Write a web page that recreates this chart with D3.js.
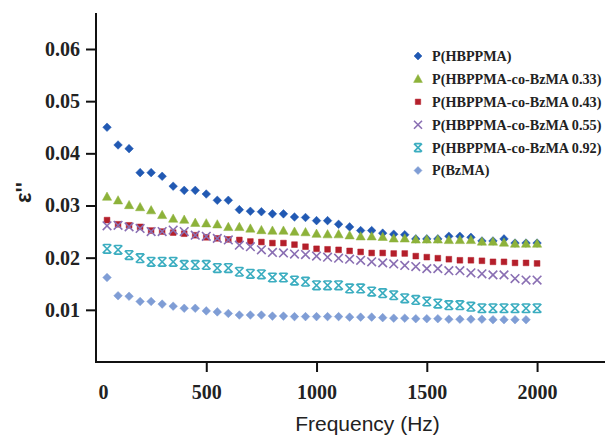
<!DOCTYPE html>
<html>
<head>
<meta charset="utf-8">
<script src="https://cdn.jsdelivr.net/npm/d3@7"></script>
<style>
  html, body { margin: 0; padding: 0; background: #fff; }
  svg { display: block; }
</style>
</head>
<body>
<svg id="chart" width="605" height="437"></svg>
<script>
// ---- data ----
const frequencies = [50,100,150,200,250,300,350,400,450,500,550,600,650,700,750,800,850,900,950,1000,
  1050,1100,1150,1200,1250,1300,1350,1400,1450,1500,1550,1600,1650,1700,1750,1800,1850,1900,1950,2000];

const seriesNames = ["P(HBPPMA)", "P(HBPPMA-co-BzMA 0.33)", "P(HBPPMA-co-BzMA 0.43)",
  "P(HBPPMA-co-BzMA 0.55)", "P(HBPPMA-co-BzMA 0.92)", "P(BzMA)"];

const hbppma = [0.0450,0.0416,0.0409,0.0363,0.0363,0.0356,0.0337,0.0329,0.0329,0.0322,0.0310,0.0310,0.0292,0.0289,0.0288,0.0284,0.0284,0.0278,0.0277,0.0271,
  0.0271,0.0264,0.0259,0.0252,0.0252,0.0247,0.0245,0.0244,0.0236,0.0236,0.0236,0.0241,0.0241,0.0239,0.0232,0.0232,0.0236,0.0228,0.0228,0.0228];
const co033 = [0.0317,0.0310,0.0301,0.0297,0.0291,0.0282,0.0275,0.0273,0.0267,0.0266,0.0264,0.0259,0.0259,0.0256,0.0253,0.0252,0.0252,0.0250,0.0249,0.0246,
  0.0245,0.0245,0.0243,0.0241,0.0241,0.0240,0.0237,0.0237,0.0235,0.0235,0.0235,0.0234,0.0234,0.0234,0.0231,0.0231,0.0229,0.0227,0.0227,0.0227];
const co043 = [0.0272,0.0264,0.0262,0.0259,0.0252,0.0250,0.0248,0.0246,0.0243,0.0239,0.0237,0.0235,0.0234,0.0231,0.0230,0.0228,0.0228,0.0225,0.0221,0.0217,
  0.0216,0.0215,0.0213,0.0211,0.0209,0.0209,0.0208,0.0208,0.0203,0.0201,0.0199,0.0197,0.0195,0.0195,0.0194,0.0192,0.0192,0.0190,0.0190,0.0189];
const co055 = [0.0261,0.0262,0.0259,0.0256,0.0250,0.0250,0.0253,0.0250,0.0243,0.0241,0.0237,0.0234,0.0224,0.0221,0.0215,0.0210,0.0209,0.0207,0.0206,0.0203,
  0.0201,0.0199,0.0197,0.0195,0.0192,0.0190,0.0188,0.0185,0.0183,0.0179,0.0179,0.0175,0.0175,0.0171,0.0169,0.0167,0.0167,0.0160,0.0157,0.0157];
const co092 = [0.0217,0.0215,0.0205,0.0199,0.0192,0.0192,0.0192,0.0186,0.0186,0.0186,0.0180,0.0180,0.0173,0.0169,0.0168,0.0162,0.0162,0.0156,0.0154,0.0147,
  0.0147,0.0147,0.0141,0.0141,0.0135,0.0132,0.0128,0.0122,0.0119,0.0116,0.0112,0.0109,0.0109,0.0106,0.0103,0.0103,0.0103,0.0103,0.0103,0.0103];
const bzma = [0.0162,0.0127,0.0126,0.0116,0.0116,0.0111,0.0107,0.0103,0.0103,0.0098,0.0096,0.0093,0.0090,0.0090,0.0090,0.0088,0.0088,0.0087,0.0087,0.0087,
  0.0087,0.0087,0.0086,0.0086,0.0086,0.0085,0.0084,0.0084,0.0083,0.0083,0.0083,0.0082,0.0082,0.0082,0.0082,0.0081,0.0081,0.0081,0.0081];

const xTicks = [0, 500, 1000, 1500, 2000];
const yTicks = [0.01, 0.02, 0.03, 0.04, 0.05, 0.06];

// ---- styling ----
const colors = ["#2159b3", "#8db23a", "#b41f2b", "#8a6fb3", "#3badc0", "#7f9dd5"];
const shapes = ["diamond", "triangle", "square", "cross", "hourglass", "diamond"];
const seriesValues = [hbppma, co033, co043, co055, co092, bzma];

const svg = d3.select("#chart");
const padL = 96, padR = 605, padT = 13, padB = 362;

const x = d3.scaleLinear().domain([0, 2308]).range([padL, padR]);
const y = d3.scaleLinear().domain([0, 0.0669]).range([padB, padT]);

function markerPath(shape, s) {
  const p = d3.path();
  if (shape === "diamond") {
    p.moveTo(0, -s); p.lineTo(s, 0); p.lineTo(0, s); p.lineTo(-s, 0); p.closePath();
  } else if (shape === "triangle") {
    p.moveTo(0, -s); p.lineTo(s, s * 0.8); p.lineTo(-s, s * 0.8); p.closePath();
  } else if (shape === "square") {
    p.rect(-s * 0.8, -s * 0.8, s * 1.6, s * 1.6);
  } else if (shape === "cross") {
    p.moveTo(-s, -s); p.lineTo(s, s); p.moveTo(s, -s); p.lineTo(-s, s);
  } else if (shape === "hourglass") {
    p.moveTo(-s, -s); p.lineTo(s, s); p.moveTo(s, -s); p.lineTo(-s, s);
    p.moveTo(-s * 0.8, -s); p.lineTo(s * 0.8, -s); p.moveTo(-s * 0.8, s); p.lineTo(s * 0.8, s);
  }
  return p.toString();
}
const strokeShape = s => s === "cross" || s === "hourglass";

// ---- axes ----
const yAxis = d3.axisLeft(y).tickValues(yTicks).tickFormat(d3.format(".2f")).tickSize(10).tickPadding(6);
const gy = svg.append("g").attr("transform", `translate(${padL},0)`).call(yAxis);
gy.select(".domain").attr("d", `M0,${padT}V${padB}`).attr("stroke", "#111").attr("stroke-width", 2);
gy.selectAll(".tick line").attr("stroke", "#111").attr("stroke-width", 2);
gy.selectAll(".tick text").attr("font-family", "'Liberation Serif', 'Times New Roman', serif")
  .attr("font-weight", "bold").attr("font-size", 20).attr("fill", "#222");

const xAxis = d3.axisBottom(x).tickValues(xTicks).tickFormat(d3.format("d")).tickSize(10).tickPadding(13);
const gx = svg.append("g").attr("transform", `translate(0,${padB})`).call(xAxis);
gx.select(".domain").attr("d", `M${padL - 1},0H${padR}`).attr("stroke", "#111").attr("stroke-width", 2);
gx.selectAll(".tick line").attr("stroke", "#111").attr("stroke-width", 2)
  .filter(d => d === 0).remove();
gx.selectAll(".tick text").attr("font-family", "'Liberation Serif', 'Times New Roman', serif")
  .attr("font-weight", "bold").attr("font-size", 20).attr("fill", "#222")
  .attr("dx", d => d === 0 ? 7 : 0);

// axis titles
svg.append("text")
  .attr("x", (padL + padR) / 2 + 17).attr("y", 431)
  .attr("text-anchor", "middle")
  .attr("font-family", "'Liberation Sans', Arial, sans-serif")
  .attr("font-size", 21).attr("fill", "#222")
  .text("Frequency (Hz)");

svg.append("text")
  .attr("transform", `translate(31,${y(0.03) - 13}) rotate(-90)`)
  .attr("text-anchor", "middle")
  .attr("font-family", "'Liberation Sans', Arial, sans-serif")
  .attr("font-weight", "bold")
  .attr("font-size", 22).attr("fill", "#222")
  .text("ε''");

// ---- data marks ----
const plot = svg.append("g");
seriesValues.forEach((vals, si) => {
  const shape = shapes[si];
  const size = shape === "square" ? 3.6 : (shape === "triangle" ? 4.6 : 4.3);
  plot.append("g").selectAll("path")
    .data(vals.map((v, i) => ({ f: frequencies[i], v })))
    .join("path")
    .attr("transform", d => `translate(${x(d.f)},${y(d.v)})`)
    .attr("d", markerPath(shape, size))
    .attr("fill", strokeShape(shape) ? "none" : colors[si])
    .attr("stroke", colors[si])
    .attr("stroke-width", strokeShape(shape) ? 1.6 : 0.5);
});

// ---- legend ----
const legend = svg.append("g");
seriesNames.forEach((name, i) => {
  const ly = 56 + i * 22.9;
  const shape = shapes[i];
  const size = shape === "square" ? 3.4 : (shape === "triangle" ? 4.4 : 4);
  legend.append("path")
    .attr("transform", `translate(418,${ly})`)
    .attr("d", markerPath(shape, size))
    .attr("fill", strokeShape(shape) ? "none" : colors[i])
    .attr("stroke", colors[i])
    .attr("stroke-width", strokeShape(shape) ? 1.6 : 0.5);
  legend.append("text")
    .attr("x", 432).attr("y", ly).attr("dy", "0.35em")
    .attr("font-family", "'Liberation Serif', 'Times New Roman', serif")
    .attr("font-weight", "bold").attr("font-size", 14.2).attr("fill", "#222")
    .text(name);
});
</script>
</body>
</html>
